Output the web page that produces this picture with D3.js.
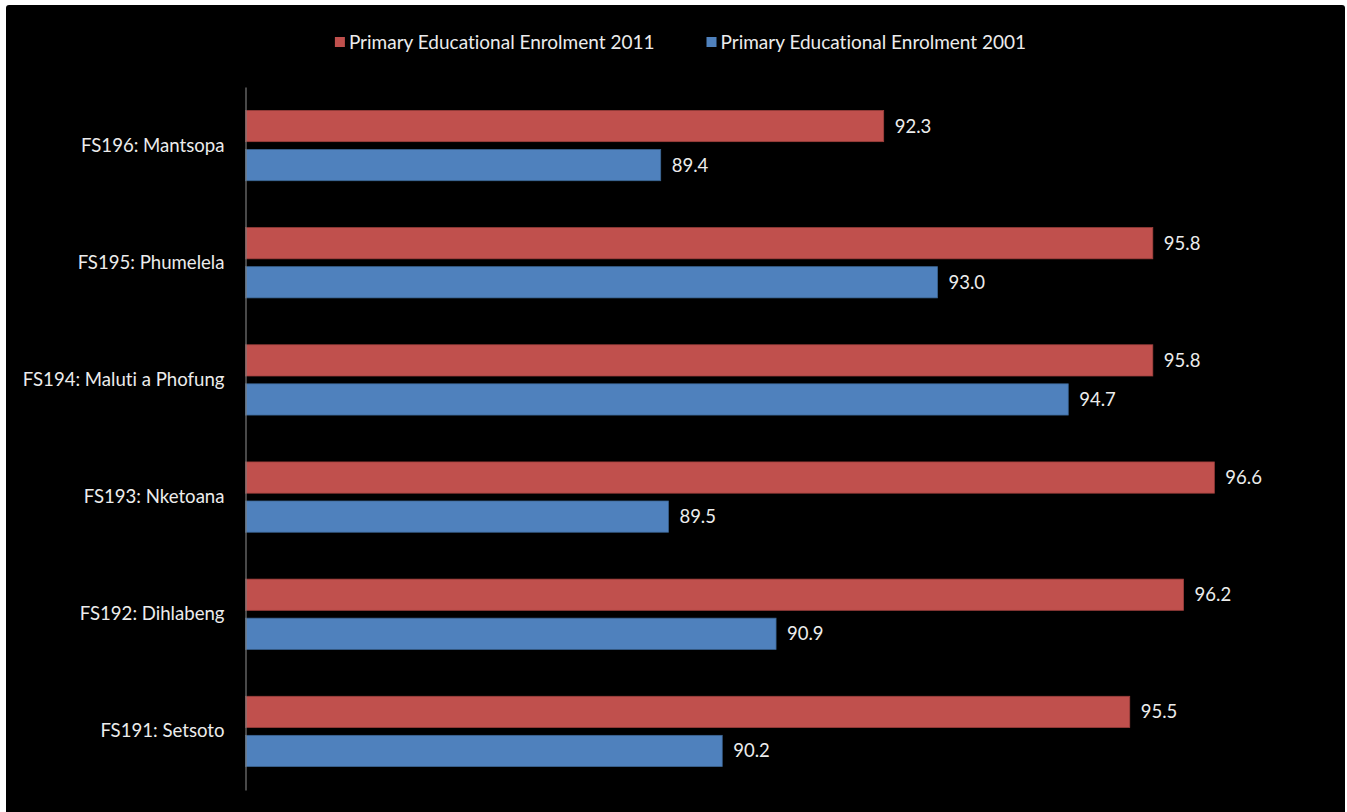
<!DOCTYPE html>
<html>
<head>
<meta charset="utf-8">
<script src="https://cdn.jsdelivr.net/npm/d3@7"></script>
<style>
  html, body { margin: 0; padding: 0; background: #fff; }
  text { font-family: Lato, "Open Sans", sans-serif; fill: #ececec; font-variant-ligatures: none; }
</style>
</head>
<body>
<script>
// data
const categories = ["FS196: Mantsopa", "FS195: Phumelela", "FS194: Maluti a Phofung",
                    "FS193: Nketoana", "FS192: Dihlabeng", "FS191: Setsoto"];
const series = ["Primary Educational Enrolment 2011", "Primary Educational Enrolment 2001"];
const enrol2011 = [92.3, 95.8, 95.8, 96.6, 96.2, 95.5];
const enrol2001 = [89.4, 93.0, 94.7, 89.5, 90.9, 90.2];
const xDomain = [84, 98];

const colors = ["#c0504d", "#4f81bd"];
const borders = ["#9c3f3c", "#3c6592"];

const W = 1347, H = 812;
const svg = d3.select("body").append("svg")
  .attr("width", W).attr("height", H);

// black chart area
svg.append("rect")
  .attr("x", 6).attr("y", 5)
  .attr("width", 1339).attr("height", H)
  .attr("rx", 3)
  .attr("fill", "#000");

const x = d3.scaleLinear().domain(xDomain).range([245.5, 1322]);
const y0 = d3.scaleBand().domain(categories).range([87, 790]);
const y1 = d3.scaleBand().domain(series).range([0, y0.bandwidth()])
  .paddingInner(0.2).paddingOuter(0.6);

const rows = categories.map((c, i) => ({
  cat: c,
  vals: [
    {s: series[0], v: enrol2011[i], k: 0},
    {s: series[1], v: enrol2001[i], k: 1}
  ]
}));

const g = svg.selectAll("g.row")
  .data(rows)
  .enter().append("g")
  .attr("class", "row")
  .attr("transform", d => `translate(0,${y0(d.cat)})`);

g.selectAll("rect")
  .data(d => d.vals)
  .enter().append("rect")
  .attr("x", x(xDomain[0]))
  .attr("y", d => y1(d.s))
  .attr("width", d => x(d.v) - x(xDomain[0]))
  .attr("height", y1.bandwidth())
  .attr("fill", d => colors[d.k])
  .attr("stroke", d => borders[d.k])
  .attr("stroke-width", 0.75);

g.selectAll("text.val")
  .data(d => d.vals)
  .enter().append("text")
  .attr("class", "val")
  .attr("x", d => x(d.v) + 11)
  .attr("y", d => y1(d.s) + y1.bandwidth() / 2)
  .attr("dy", "0.35em")
  .attr("font-size", "18.5px")
  .text(d => d.v.toFixed(1));

// category axis
const yAxis = svg.append("g")
  .attr("transform", `translate(${x(xDomain[0])},0)`)
  .call(d3.axisLeft(y0).tickSize(0).tickPadding(21));
yAxis.select(".domain").attr("stroke", "#7a7a7a").attr("stroke-width", 1.2);
yAxis.selectAll("text")
  .attr("font-size", "18.6px")
  .attr("fill", "#ececec")
  .style("font-family", "Lato, 'Open Sans', sans-serif");

// legend
const legend = svg.append("g");
let lx = 0;
series.forEach((s, i) => {
  const item = legend.append("g").attr("transform", `translate(${lx},0)`);
  item.append("rect")
    .attr("x", 0).attr("y", -5)
    .attr("width", 10).attr("height", 10)
    .attr("fill", colors[i]);
  const t = item.append("text")
    .attr("x", 14).attr("y", 0).attr("dy", "0.35em")
    .attr("font-size", "19px")
    .text(s);
  lx += 14 + t.node().getComputedTextLength() + 52;
});
const legW = lx - 52;
legend.attr("transform", `translate(${680.5 - legW / 2},42)`);
</script>
</body>
</html>
